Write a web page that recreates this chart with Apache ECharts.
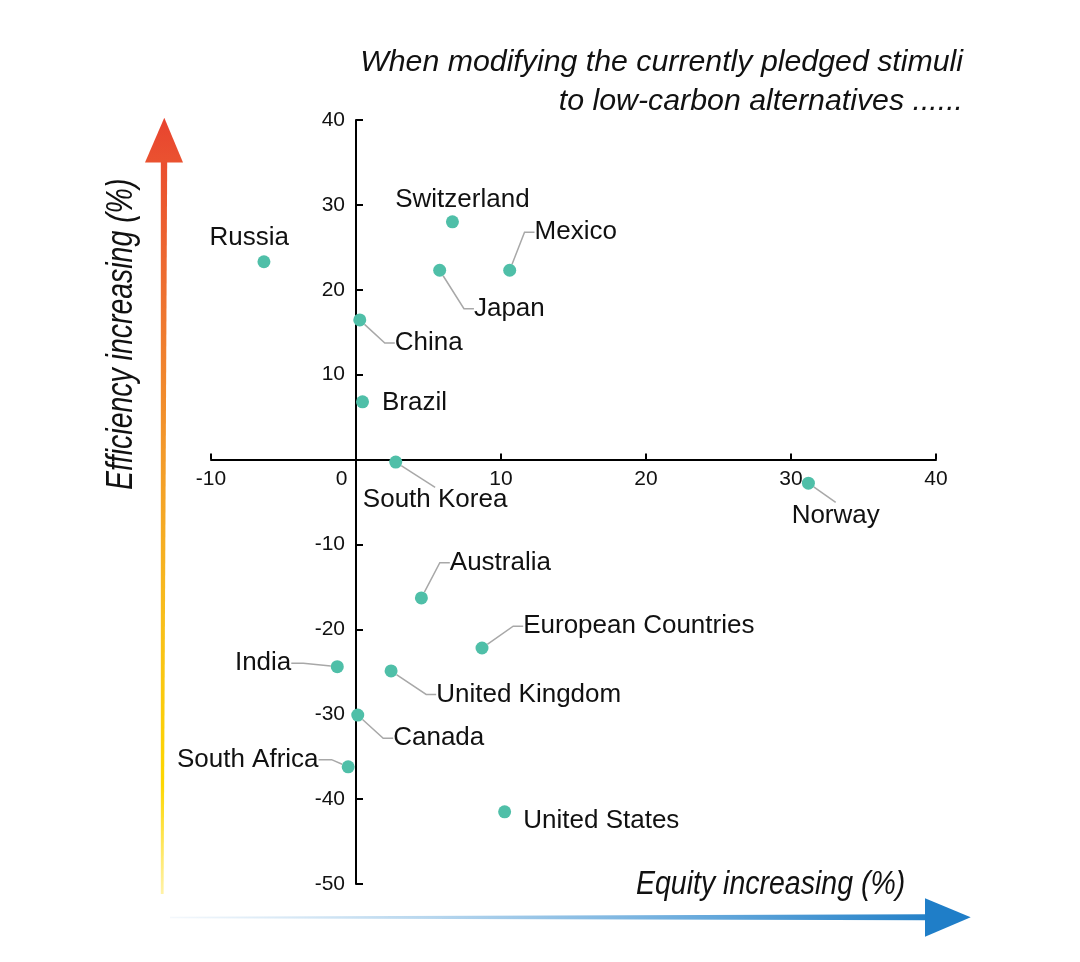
<!DOCTYPE html>
<html><head><meta charset="utf-8">
<script src="https://cdn.jsdelivr.net/npm/echarts@6/dist/echarts.min.js"></script>
<style>html,body{margin:0;padding:0;background:#fff}#c{width:1080px;height:962px}</style>
</head><body><div id="c"></div>
<script>
// ---- data ----
const countries = ['Russia','Switzerland','Mexico','Japan','China','Brazil','South Korea','Norway','Australia','European Countries','India','United Kingdom','Canada','South Africa','United States'];
const equity     = [-6.35, 6.65, 10.6, 5.77, 0.26, 0.45, 2.74, 31.2, 4.51, 8.69, -1.29, 2.42, 0.12, -0.54, 10.25];
const efficiency = [23.3, 28.0, 22.3, 22.3, 16.45, 6.8, -0.3, -2.78, -16.3, -22.2, -24.4, -24.9, -30.1, -36.2, -41.5];
const xTicks = [-10, 0, 10, 20, 30, 40];
const yTicks = [-50, -40, -30, -20, -10, 0, 10, 20, 30, 40];
const titleLines = ['When modifying the currently pledged stimuli', 'to low-carbon alternatives ......'];
const xName = 'Equity increasing (%)';
const yName = 'Efficiency increasing (%)';

// ---- label layout (offset of label centre from its point, leader line, length2) ----
const labelPlacement = {
  'Russia':             [-14.6, -24.3, false, 0],
  'Switzerland':        [10, -21.7, false, 0],
  'Mexico':             [66, -38, true, 10],
  'Japan':              [69.7, 38.5, true, 10],
  'China':              [69, 23.2, true, 10],
  'Brazil':             [52, 1.2, false, 0],
  'South Korea':        [39.4, 38.2, true, 0],
  'Norway':             [27.3, 32.2, true, 0],
  'Australia':          [79, -35.2, true, 10],
  'European Countries': [156.8, -21.8, true, 10],
  'India':              [-74.2, -3.5, true, 12],
  'United Kingdom':     [137.6, 23.5, true, 10],
  'Canada':             [81, 23.2, true, 10],
  'South Africa':       [-100.4, -7.2, true, 13],
  'United States':      [96.7, 8.8, false, 0]
};

const FONT = "'Liberation Sans', Arial, sans-serif";
const GRID = {left: 211, top: 120, width: 725, height: 764};
const chart = echarts.init(document.getElementById('c'), null, {renderer: 'canvas'});

const xMin = xTicks[0], xMax = xTicks[xTicks.length - 1];
const yMin = yTicks[0], yMax = yTicks[yTicks.length - 1];
// distance from grid edge to the zero lines, used to bring tick labels next to the crossing axes
const zeroFromBottom = GRID.height * (0 - yMin) / (yMax - yMin);
const zeroFromLeft = GRID.width * (0 - xMin) / (xMax - xMin);

const seriesData = countries.map((name, i) => {
  const p = labelPlacement[name];
  return {
    name: name,
    value: [equity[i], efficiency[i]],
    labelLine: {show: p[2], length2: p[3]}
  };
});

const option = {
  animation: false,
  backgroundColor: '#ffffff',
  grid: Object.assign({containLabel: false, outerBoundsMode: 'none'}, GRID),
  xAxis: {
    type: 'value',
    min: xMin, max: xMax, interval: xTicks[1] - xTicks[0],
    splitLine: {show: false},
    axisLine: {show: true, onZero: true, lineStyle: {color: '#000', width: 2}},
    axisTick: {show: true, inside: true, length: 6, lineStyle: {color: '#000', width: 2}},
    axisLabel: {
      fontFamily: FONT, fontSize: 21, color: '#111', margin: 9 - zeroFromBottom,
      showMinLabel: true, showMaxLabel: true,
      formatter: v => v === 0 ? '{z|0}' : String(v),
      rich: {z: {fontFamily: FONT, fontSize: 21, color: '#111', padding: [0, 29, 0, 0]}}
    }
  },
  yAxis: {
    type: 'value',
    min: yMin, max: yMax, interval: yTicks[1] - yTicks[0],
    splitLine: {show: false},
    axisLine: {show: true, onZero: true, lineStyle: {color: '#000', width: 2}},
    axisTick: {show: true, inside: true, length: 7, lineStyle: {color: '#000', width: 2}},
    axisLabel: {
      fontFamily: FONT, fontSize: 21, color: '#111', margin: 11 - zeroFromLeft,
      showMinLabel: true, showMaxLabel: true,
      formatter: v => v === 0 ? '' : String(v)
    }
  },
  series: [{
    type: 'scatter',
    symbol: 'circle',
    symbolSize: 13,
    itemStyle: {color: '#4FBFA8', opacity: 1},
    data: seriesData,
    label: {
      show: true,
      position: 'inside',
      formatter: p => p.name,
      fontFamily: FONT, fontSize: 26, color: '#111',
      align: 'center', verticalAlign: 'middle',
      padding: [4, 8]
    },
    labelLine: {show: true, length2: 10, smooth: false, lineStyle: {color: '#a8a8a8', width: 1.5}},
    labelLayout: params => {
      const p = labelPlacement[countries[params.dataIndex]];
      return {dx: p[0], dy: p[1]};
    },
    emphasis: {disabled: true}
  }],
  graphic: [
    // title
    {
      type: 'text', silent: true,
      x: 963, y: 43,
      style: {text: titleLines.join('\n'), fontFamily: FONT, fontSize: 30.3, fontStyle: 'italic', fill: '#111',
        lineHeight: 39, align: 'right', verticalAlign: 'top', textAlign: 'right', textVerticalAlign: 'top'}
    },
    // vertical arrow (efficiency)
    {
      type: 'polygon', silent: true,
      shape: {points: [[160.8, 160], [167.2, 160], [163.6, 894], [160.8, 894]]},
      style: {fill: new echarts.graphic.LinearGradient(0, 0, 0, 1, [
        {offset: 0, color: '#EA4E2F'},
        {offset: 0.18, color: '#EE7030'},
        {offset: 0.4, color: '#F39A2A'},
        {offset: 0.62, color: '#F8BE1C'},
        {offset: 0.85, color: '#FDD700'},
        {offset: 1, color: '#FFF2A8'}
      ])}
    },
    {
      type: 'polygon', silent: true,
      shape: {points: [[145, 162.5], [164.3, 117.7], [183, 162.5]]},
      style: {fill: new echarts.graphic.LinearGradient(0, 0, 0, 1, [
        {offset: 0, color: '#E8432F'}, {offset: 1, color: '#EA5230'}
      ])}
    },
    // horizontal arrow (equity)
    {
      type: 'polygon', silent: true,
      shape: {points: [[170, 916.8], [928, 914.3], [928, 920.3], [170, 918.3]]},
      style: {fill: new echarts.graphic.LinearGradient(0, 0, 1, 0, [
        {offset: 0, color: '#F4F8FC'},
        {offset: 0.35, color: '#B6D6EE'},
        {offset: 0.7, color: '#68AADC'},
        {offset: 1, color: '#2481C8'}
      ])}
    },
    {
      type: 'polygon', silent: true,
      shape: {points: [[925, 898.3], [970.7, 917.3], [925, 936.7]]},
      style: {fill: '#1F7EC8'}
    },
    // axis names
    {
      type: 'text', silent: true,
      x: 636, y: 885, scaleX: 0.838,
      style: {text: xName, fontFamily: FONT, fontSize: 34, fontStyle: 'italic', fill: '#111',
        align: 'left', verticalAlign: 'middle', textAlign: 'left', textVerticalAlign: 'middle'}
    },
    {
      type: 'text', silent: true,
      x: 122, y: 490, rotation: Math.PI / 2, scaleX: 0.79,
      style: {text: yName, fontFamily: FONT, fontSize: 36, fontStyle: 'italic', fill: '#111',
        align: 'left', verticalAlign: 'middle', textAlign: 'left', textVerticalAlign: 'middle'}
    }
  ]
};
chart.setOption(option);
</script>
</body></html>
